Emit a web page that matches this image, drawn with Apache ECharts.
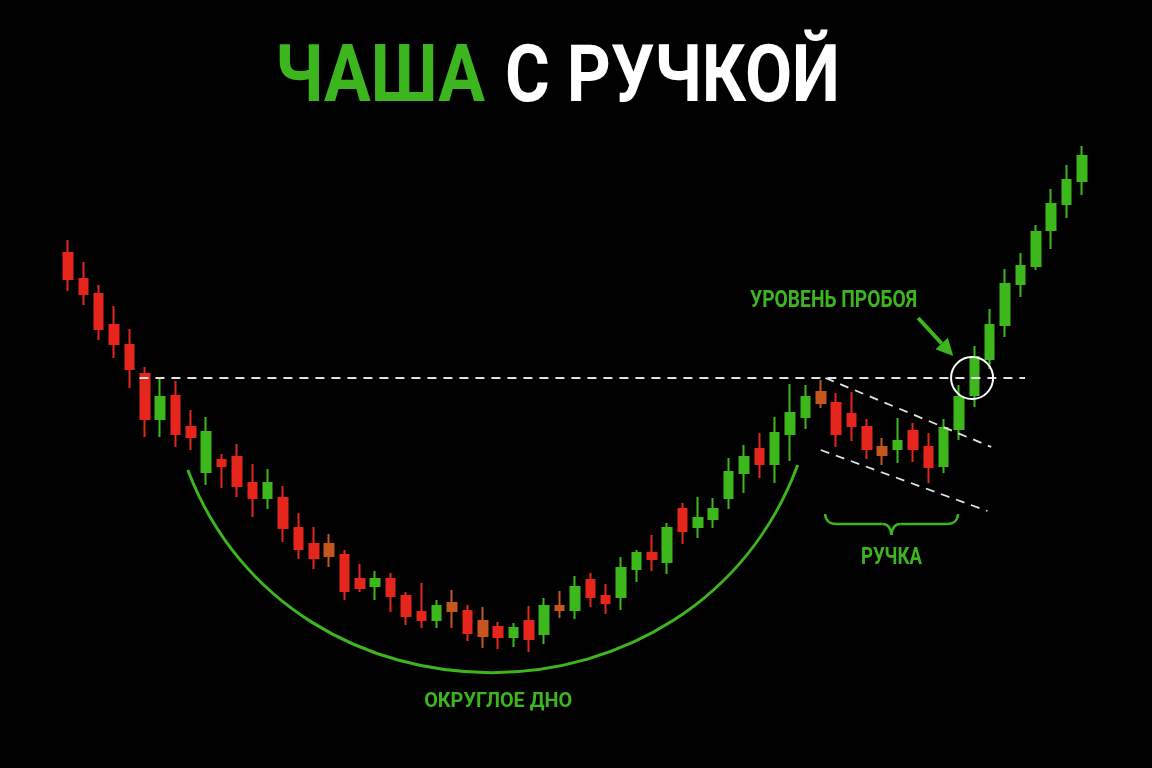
<!DOCTYPE html>
<html><head><meta charset="utf-8">
<script src="https://cdn.jsdelivr.net/npm/echarts@6/dist/echarts.min.js"></script>
<style>html,body{margin:0;padding:0;background:#000}#c{width:1152px;height:768px}</style>
</head><body><div id="c"></div>
<script>
// ---- data (price units) ----
const opens  = [54.7,52.1,50.6,47.5,45.5,42.6,38.1,40.4,37.3,32.8,
                34.0,34.3,31.7,30.2,30.2,27.2,25.6,25.6,24.5,22.1,
                21.4,22.1,20.4,18.8,18.0,19.7,18.9,17.9,17.3,16.3,
                17.9,16.6,19.4,19.0,22.0,20.4,20.3,23.1,24.7,23.8,
                29.1,27.3,28.1,30.2,32.7,35.1,33.6,36.6,38.3,40.8,
                39.7,38.6,37.3,35.3,35.1,36.9,35.3,33.4,37.1,40.5,
                44.1,47.5,51.6,53.4,57.0,59.6,61.9];
const closes = [52.1,50.6,47.1,45.6,43.1,38.1,40.3,36.6,36.3,36.8,
                33.4,31.4,30.2,31.7,27.2,25.1,24.2,24.4,20.9,21.2,
                22.1,20.4,18.4,18.0,19.4,18.9,16.7,16.4,16.3,17.2,
                16.1,19.4,19.0,21.3,20.3,19.7,23.2,24.7,24.1,27.2,
                26.9,28.2,29.1,32.8,34.3,33.6,36.7,38.7,40.3,39.7,
                36.6,37.4,35.1,34.5,35.9,35.1,33.3,37.2,40.3,44.3,
                47.5,51.6,53.4,56.8,59.6,62.0,64.4];
const lows   = [50.9,49.5,46.0,44.2,41.2,36.3,36.3,35.3,35.0,31.5,
                31.2,30.3,28.3,29.1,25.8,24.1,23.1,23.3,20.0,20.8,
                20.0,18.8,17.5,17.2,17.2,17.2,15.9,15.2,15.1,15.3,
                14.8,15.6,18.2,18.1,19.3,18.6,19.0,21.8,22.9,22.6,
                25.6,26.2,27.2,29.1,30.7,32.2,31.7,33.9,37.1,39.2,
                35.3,35.9,34.1,33.5,33.7,33.8,31.7,32.7,36.0,39.3,
                43.1,46.3,50.3,53.0,55.1,58.2,60.5];
const highs  = [56.0,53.8,51.5,49.4,47.1,43.3,42.2,41.9,39.0,38.3,
                34.6,35.6,33.6,33.1,31.4,28.7,27.3,26.6,25.0,23.6,
                22.9,22.7,20.8,21.7,20.0,21.0,19.5,19.3,17.8,17.7,
                19.4,20.2,20.9,22.4,22.7,21.6,24.3,25.0,26.5,27.7,
                29.7,30.3,30.2,34.2,35.5,36.7,38.3,41.6,41.5,42.0,
                40.7,40.8,38.1,36.2,38.2,37.7,36.7,38.1,41.5,45.4,
                49.1,53.1,54.7,57.5,61.1,63.5,65.4];
const mixedCandles = [17,25,27,32,49,53];   // indecisive (orange) candles
const candles = opens.map((_, i) => String(i + 1));
const breakoutLevel = 42.2;

// ---- annotation anchors in data coordinates [candle index, price] ----
const breakoutSpan  = [4.65, 62.3];
const upperChannel  = [[49.3, 42.2], [60.1, 35.3]];
const lowerChannel  = [[49.0, 35.0], [59.85, 28.9]];
const cupArc        = [[7.8, 33.0], [14.5, 5.9], [40.8, 5.9], [47.5, 33.5]];
const handleBrace   = {from: 49.28, to: 57.94, top: 28.6, mid: 27.6, tip: 26.5, tipAt: 53.6};
const breakoutPoint = [58.85, breakoutLevel];
const arrowFromTo   = [[55.34, 48.2], [57.62, 44.4]];
const cupLabelAt    = [28.0, 9.8];
const handleLabelAt = [53.6, 24.25];
const levelLabelAt  = [44.4, 49.95];

const UP = '#3cb81d', DOWN = '#e6261d', MIX = '#c6561f', GREEN = '#3db51f';

const chart = echarts.init(document.getElementById('c'));
const seriesData = opens.map((o, i) => {
  const item = {value: [o, closes[i], lows[i], highs[i]]};
  if (mixedCandles.includes(i)) item.itemStyle = {color: MIX, color0: MIX, borderColor: MIX, borderColor0: MIX};
  return item;
});
chart.setOption({
  backgroundColor: '#000',
  animation: false,
  grid: {left: 60.3, right: 62.4, top: 100, bottom: 68},
  xAxis: [
    {type: 'category', data: candles, show: false, boundaryGap: true},
    {type: 'value', min: -0.5, max: 66.5, show: false}
  ],
  yAxis: {type: 'value', min: 10, max: 70, show: false, splitLine: {show: false}},
  series: [{
    type: 'candlestick', data: seriesData, barWidth: 9,
    itemStyle: {color: UP, color0: DOWN, borderColor: UP, borderColor0: DOWN, borderWidth: 2}
  }]
});

const px = p => chart.convertToPixel({xAxisIndex: 1, yAxisIndex: 0}, p);
const meas = document.createElement('canvas').getContext('2d');
function fit(text, size, target) { meas.font = 'bold ' + size + 'px Roboto'; return target / meas.measureText(text).width; }
function label(text, at, size, width, align, fill) {
  return {type: 'text', x: at[0], y: at[1], scaleX: fit(text, size, width), z: 20,
    style: {text, x: 0, y: 0, fill, font: 'bold ' + size + 'px Roboto', textAlign: align, textVerticalAlign: 'middle'}};
}
const dash = {stroke: '#e2e2e2', lineWidth: 2, lineDash: [9, 7]};
const g = [];
// breakout level
const b0 = px([breakoutSpan[0], breakoutLevel]), b1 = px([breakoutSpan[1], breakoutLevel]);
g.push({type: 'line', z: 10, shape: {x1: b0[0], y1: b0[1], x2: b1[0], y2: b1[1]}, style: dash});
// handle channel
[upperChannel, lowerChannel].forEach(l => {
  const a = px(l[0]), b = px(l[1]);
  g.push({type: 'line', z: 10, shape: {x1: a[0], y1: a[1], x2: b[0], y2: b[1]}, style: {stroke: '#e2e2e2', lineWidth: 1.8, lineDash: [9, 7]}});
});
// cup arc
const c = cupArc.map(px);
g.push({type: 'bezierCurve', z: 10, shape: {x1: c[0][0], y1: c[0][1], cpx1: c[1][0], cpy1: c[1][1], cpx2: c[2][0], cpy2: c[2][1], x2: c[3][0], y2: c[3][1]},
  style: {stroke: GREEN, lineWidth: 3, fill: null}});
// handle brace
const L = px([handleBrace.from, handleBrace.top]), R = px([handleBrace.to, handleBrace.top]);
const ym = px([handleBrace.from, handleBrace.mid])[1];
const T = px([handleBrace.tipAt, handleBrace.tip]);
const bs = {stroke: GREEN, lineWidth: 2.5, fill: null};
g.push({type: 'bezierCurve', z: 10, shape: {x1: L[0], y1: L[1], cpx1: L[0] + 1, cpy1: ym, x2: L[0] + 11, y2: ym}, style: bs});
g.push({type: 'line', z: 10, shape: {x1: L[0] + 11, y1: ym, x2: T[0] - 9, y2: ym}, style: bs});
g.push({type: 'bezierCurve', z: 10, shape: {x1: T[0] - 9, y1: ym, cpx1: T[0] - 1, cpy1: ym, x2: T[0], y2: T[1]}, style: bs});
g.push({type: 'bezierCurve', z: 10, shape: {x1: T[0], y1: T[1], cpx1: T[0] + 1, cpy1: ym, x2: T[0] + 9, y2: ym}, style: bs});
g.push({type: 'line', z: 10, shape: {x1: T[0] + 9, y1: ym, x2: R[0] - 11, y2: ym}, style: bs});
g.push({type: 'bezierCurve', z: 10, shape: {x1: R[0] - 11, y1: ym, cpx1: R[0] - 1, cpy1: ym, x2: R[0], y2: R[1]}, style: bs});
// breakout circle
const bp = px(breakoutPoint);
g.push({type: 'circle', z: 11, shape: {cx: bp[0], cy: bp[1], r: 21}, style: {stroke: '#ffffff', lineWidth: 2, fill: null}});
// arrow
const A0 = px(arrowFromTo[0]), A1 = px(arrowFromTo[1]);
const dx = A1[0] - A0[0], dy = A1[1] - A0[1], len = Math.hypot(dx, dy), ux = dx / len, uy = dy / len;
const hb = [A1[0] - 17 * ux, A1[1] - 17 * uy];
g.push({type: 'line', z: 10, shape: {x1: A0[0], y1: A0[1], x2: hb[0], y2: hb[1]}, style: {stroke: GREEN, lineWidth: 4}});
g.push({type: 'polygon', z: 10, shape: {points: [[A1[0], A1[1]], [hb[0] - 8.5 * uy, hb[1] + 8.5 * ux], [hb[0] + 8.5 * uy, hb[1] - 8.5 * ux]]}, style: {fill: GREEN}});
// labels
g.push(label('ОКРУГЛОЕ ДНО', px(cupLabelAt), 20.5, 148, 'center', GREEN));
g.push(label('РУЧКА', px(handleLabelAt), 24, 61, 'center', GREEN));
g.push(label('УРОВЕНЬ ПРОБОЯ', px(levelLabelAt), 24, 167, 'left', GREEN));
// title
g.push(label('ЧАША', [275, 81], 80, 210, 'left', GREEN));
g.push(label('С РУЧКОЙ', [505, 81], 80, 335, 'left', '#ffffff'));
chart.setOption({graphic: {elements: g}});
</script></body></html>
